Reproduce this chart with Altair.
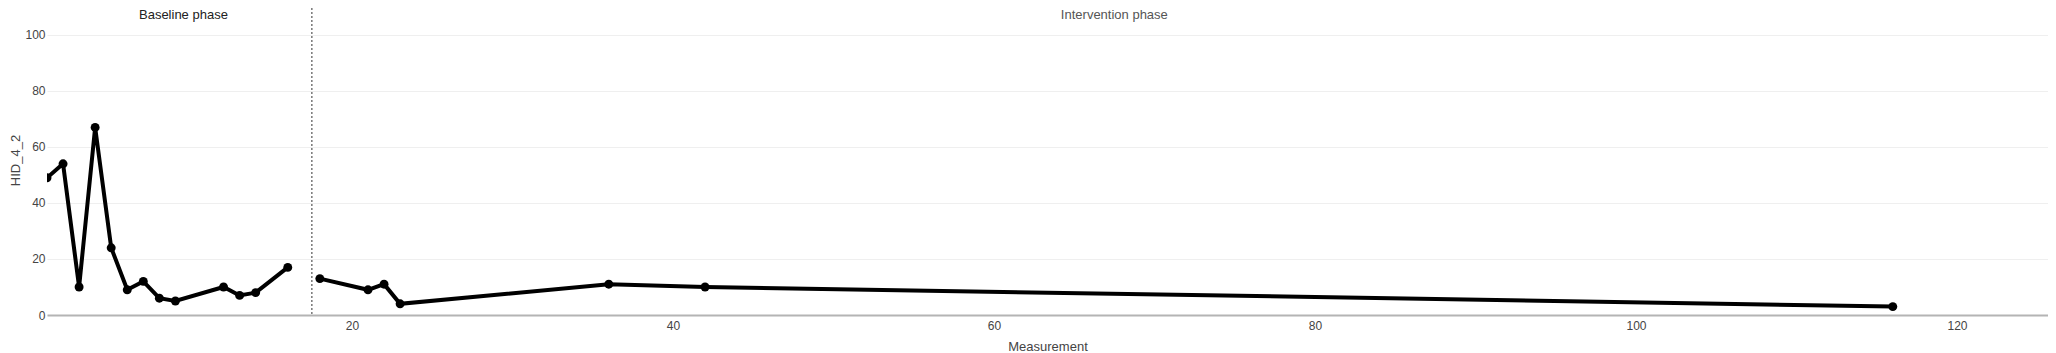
import altair as alt
import pandas as pd

# Data
measurement = [1, 2, 3, 4, 5, 6, 7, 8, 9, 12, 13, 14, 16, 18, 21, 22, 23, 36, 42, 116]
hid_4_2 = [49, 54, 10, 67, 24, 9, 12, 6, 5, 10, 7, 8, 17, 13, 9, 11, 4, 11, 10, 3]
phase = ["Baseline"] * 13 + ["Intervention"] * 7
phase_change_x = [17.5]
phase_labels = ["Baseline phase", "Intervention phase"]
phase_label_x = [9.5, 67.5]
phase_label_colors = ["#222222", "#555555"]
y_ticks = [0, 20, 40, 60, 80, 100]
x_ticks = [20, 40, 60, 80, 100, 120]

FONT = "Liberation Sans"
X_DOMAIN = [1, 125.67]
Y_DOMAIN = [0, 109.64]

df = pd.DataFrame({"Measurement": measurement, "HID_4_2": hid_4_2, "phase": phase})
rule_df = pd.DataFrame({"x": phase_change_x})
label_df = pd.DataFrame({"x": phase_label_x, "label": phase_labels, "c": phase_label_colors})

x_scale = alt.Scale(domain=X_DOMAIN, nice=False, zero=False)
y_scale = alt.Scale(domain=Y_DOMAIN, nice=False, zero=False)

x_axis = alt.Axis(
    values=x_ticks, grid=False, ticks=False,
    domainColor="#b4b4b4", domainWidth=2,
    labelFont=FONT, labelFontSize=12, labelColor="#444444", labelPadding=5,
    title="Measurement", titleFont=FONT, titleFontSize=13, titleColor="#444444",
    titleFontWeight="normal", titleY=31, titleBaseline="middle",
)
y_axis = alt.Axis(
    values=y_ticks, grid=True, gridColor="#efefef", gridWidth=1,
    ticks=False, domain=False,
    labelFont=FONT, labelFontSize=12, labelColor="#444444", labelPadding=2,
    title="HID_4_2", titleFont=FONT, titleFontSize=13, titleColor="#444444",
    titleFontWeight="normal", titleAngle=270, titleX=-32, titleY=152,
    titleBaseline="middle", titleAlign="center",
)

base = alt.Chart(df).encode(
    x=alt.X("Measurement:Q", scale=x_scale, axis=x_axis),
    y=alt.Y("HID_4_2:Q", scale=y_scale, axis=y_axis),
    detail="phase:N",
)

line = base.mark_line(color="black", strokeWidth=4, clip=True)
points = base.mark_circle(color="black", size=80, opacity=1, clip=True)

rule = alt.Chart(rule_df).mark_rule(
    color="#777777", strokeWidth=1.5, strokeDash=[2, 2]
).encode(x=alt.X("x:Q", scale=x_scale), y=alt.value(0), y2=alt.value(307))

labels = alt.Chart(label_df).mark_text(
    font=FONT, fontSize=13, baseline="top", align="center"
).encode(
    x=alt.X("x:Q", scale=x_scale),
    y=alt.value(1),
    text="label:N",
    color=alt.Color("c:N", scale=None, legend=None),
)

chart = alt.layer(rule, line, points, labels).properties(
    width=2001, height=307,
    autosize=alt.AutoSizeParams(type="none"),
    padding={"left": 39, "top": 0, "right": 0, "bottom": 38},
).configure_view(stroke=None)

chart.save("out.html", embed_options={"renderer": "svg", "actions": False})
